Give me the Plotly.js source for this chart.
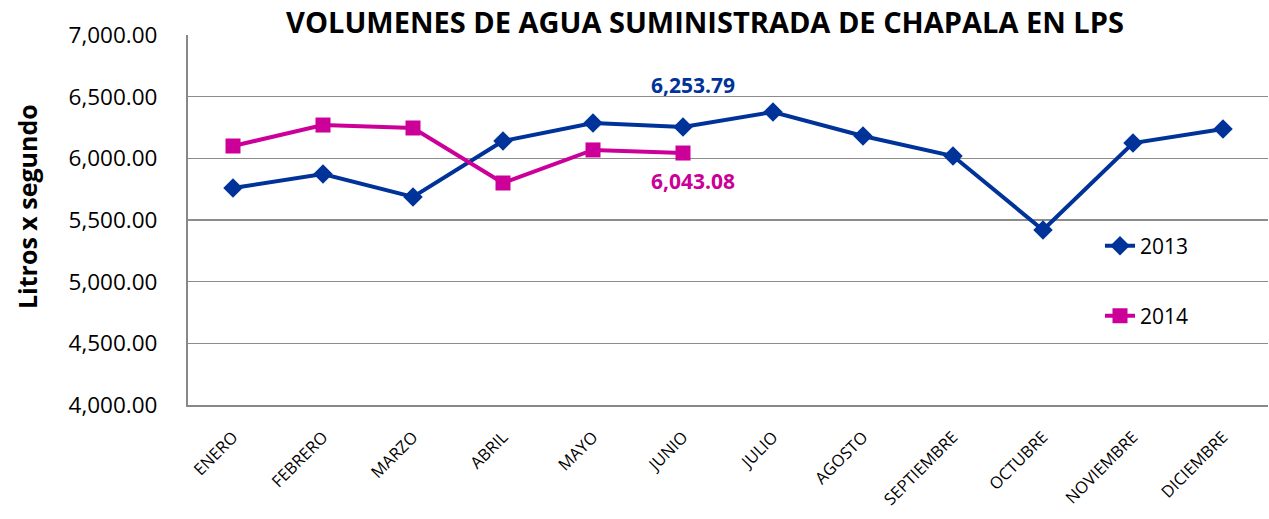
<!DOCTYPE html>
<html>
<head>
<meta charset="utf-8">
<script src="https://cdn.plot.ly/plotly-3.0.1.min.js"></script>
<style>html,body{margin:0;padding:0;background:#fff;}#chart{width:1269px;height:519px;}</style>
</head>
<body>
<div id="chart"></div>
<script>
var months = ["ENERO","FEBRERO","MARZO","ABRIL","MAYO","JUNIO","JULIO","AGOSTO","SEPTIEMBRE","OCTUBRE","NOVIEMBRE","DICIEMBRE"];
var values2013 = [5759, 5873, 5687, 6141, 6287, 6253.79, 6376, 6181, 6019, 5419, 6124, 6238];
var months2014 = ["ENERO","FEBRERO","MARZO","ABRIL","MAYO","JUNIO"];
var values2014 = [6100, 6270, 6246, 5800, 6068, 6043.08];
var yTicks = [4000, 4500, 5000, 5500, 6000, 6500, 7000];

var blue = "#003399", pink = "#CC0099";
var traces = [
  {x: months, y: values2013, name: "2013", type: "scatter", mode: "lines+markers",
   line: {color: blue, width: 4}, marker: {symbol: "diamond", size: 15, color: blue}, legend: "legend"},
  {x: months2014, y: values2014, name: "2014", type: "scatter", mode: "lines+markers",
   line: {color: pink, width: 4}, marker: {symbol: "square", size: 15, color: pink}, legend: "legend2"}
];
function fmt(v){return v.toLocaleString("en-US",{minimumFractionDigits:2,maximumFractionDigits:2});}
var layout = {
  width: 1269, height: 519,
  margin: {l: 188, r: 1, t: 35, b: 114},
  paper_bgcolor: "#fff", plot_bgcolor: "#fff",
  font: {family: "Open Sans", color: "#000"},
  title: {text: "<b>VOLUMENES DE AGUA SUMINISTRADA DE CHAPALA EN LPS</b>", x: 705/1269, xref: "container", xanchor: "center", y: 1 - 23/519, yanchor: "middle",
          font: {family: "Open Sans", size: 29, color: "#000"}},
  xaxis: {type: "category", categoryarray: months, range: [-0.5, 11.5], showgrid: false,
          showline: true, linecolor: "#888", linewidth: 2, tickangle: -45, ticks: "", ticklabelstandoff: 14,
          tickfont: {size: 16.5, family: "Open Sans", color: "#000"}, fixedrange: true},
  yaxis: {range: [4000, 7000], tickvals: yTicks, ticktext: yTicks.map(fmt), showgrid: true, gridcolor: "#8c8c8c", gridwidth: 1.5,
          showline: true, linecolor: "#888", linewidth: 2, zeroline: false, ticks: "", ticklabelstandoff: 24,
          tickfont: {size: 22.5, family: "Open Sans", color: "#000"}},
  showlegend: true,
  legend: {x: (1100-188)/1080, y: (405-246)/370, xanchor: "left", yanchor: "middle", bgcolor: "rgba(0,0,0,0)", font: {size: 21, color: "#000"}},
  legend2: {x: (1100-188)/1080, y: (405-316)/370, xanchor: "left", yanchor: "middle", bgcolor: "rgba(0,0,0,0)", font: {size: 21, color: "#000"}},
  annotations: [
    {x: (27 - 188) / 1080, y: (405 - 207) / 370, xref: "paper", yref: "paper", xanchor: "center", yanchor: "middle",
     text: "<b>Litros x segundo</b>", textangle: -90, showarrow: false,
     font: {size: 25, family: "Open Sans", color: "#000"}},
    {x: "JUNIO", y: values2013[5], xref: "x", yref: "y", text: "<b>" + fmt(values2013[5]) + "</b>", showarrow: false,
     xshift: 10, yshift: 42, font: {size: 21, color: blue, family: "Open Sans"}},
    {x: "JUNIO", y: values2014[5], xref: "x", yref: "y", text: "<b>" + fmt(values2014[5]) + "</b>", showarrow: false,
     xshift: 10, yshift: -28, font: {size: 21, color: pink, family: "Open Sans"}}
  ]
};
Plotly.newPlot("chart", traces, layout, {displayModeBar: false, staticPlot: true});
</script>
</body>
</html>
